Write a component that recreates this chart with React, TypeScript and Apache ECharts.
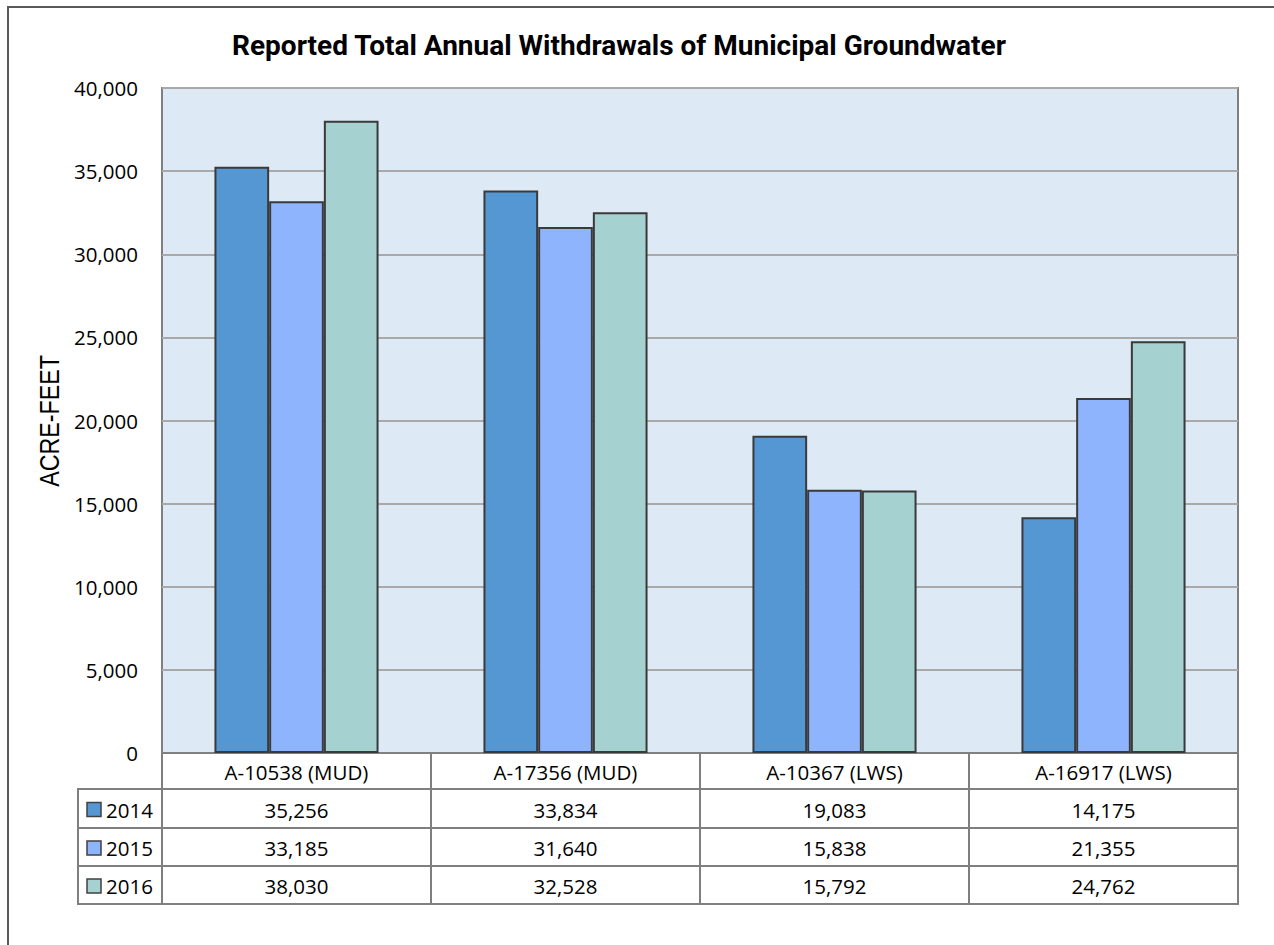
import React, { useEffect, useRef } from "react";
import * as echarts from "echarts";

const categories = ["A-10538 (MUD)", "A-17356 (MUD)", "A-10367 (LWS)", "A-16917 (LWS)"];
const seriesNames = ["2014", "2015", "2016"];
const values2014 = [35256, 33834, 19083, 14175];
const values2015 = [33185, 31640, 15838, 21355];
const values2016 = [38030, 32528, 15792, 24762];
const seriesValues = [values2014, values2015, values2016];
const seriesColors = ["#5597D3", "#8FB4FE", "#A6D1D1"];
const yMin = 0;
const yMax = 40000;
const yInterval = 5000;

const TITLE = "Reported Total Annual Withdrawals of Municipal Groundwater";
const Y_NAME = "ACRE-FEET";

const GRID_LEFT = 162;
const GRID_RIGHT_X = 1238;
const GRID_TOP = 88;
const GRID_BOTTOM_Y = 753;
const W = 1274;
const H = 945;
const ROW_LINES = [789, 828, 866, 904];
const LEGEND_LEFT = 78;
const FONT = "'Open Sans', 'Noto Sans', sans-serif";
const LINE_COLOR = "#7F7F7F";

const fmt = (v: number) => v.toLocaleString("en-US");

export default function App() {
  const ref = useRef<HTMLDivElement>(null);
  useEffect(() => {
    if (!ref.current) return;
    const chart = echarts.init(ref.current, null, { renderer: "svg" });
    const option: any = {
      animation: false,
      backgroundColor: "#FFFFFF",
      grid: {
        left: GRID_LEFT,
        top: GRID_TOP,
        right: W - GRID_RIGHT_X,
        bottom: H - GRID_BOTTOM_Y,
        show: true,
        backgroundColor: "#DEE9F6",
        borderColor: "#808080",
        borderWidth: 2,
        containLabel: false,
      },
      xAxis: {
        type: "category",
        data: categories,
        axisLine: { show: true, lineStyle: { color: "#808080", width: 2 } },
        axisTick: { show: false },
        axisLabel: {
          show: true,
          margin: 19,
          verticalAlign: "middle",
          fontFamily: FONT,
          fontSize: 20.5,
          color: "#000000",
        },
        splitLine: { show: false },
      },
      yAxis: {
        type: "value",
        min: yMin,
        max: yMax,
        interval: yInterval,
        axisLine: { show: false },
        axisTick: { show: false },
        axisLabel: {
          margin: 24,
          fontFamily: FONT,
          fontSize: 20.5,
          color: "#000000",
          formatter: (v: number) => fmt(v),
        },
        splitLine: { show: true, lineStyle: { color: "#A9A9A9", width: 2 } },
      },
      series: seriesNames.map((name, i) => ({
        name,
        type: "bar",
        data: seriesValues[i],
        barGap: "0%",
        barCategoryGap: "39%",
        itemStyle: { color: seriesColors[i], borderColor: "#3A3A3A", borderWidth: 2 },
      })),
    };
    chart.setOption(option);

    const centers = categories.map((_, i) => chart.convertToPixel({ xAxisIndex: 0 }, i) as number);
    const catW = (GRID_RIGHT_X - GRID_LEFT) / categories.length;
    const graphics: any[] = [];

    graphics.push({
      type: "rect",
      shape: { x: 8, y: 7, width: 1400, height: 1100 },
      style: { fill: "none", stroke: "#595959", lineWidth: 2 },
      z: 10,
    });
    graphics.push({
      type: "text",
      x: 619,
      y: 45,
      style: {
        text: TITLE,
        font: "bold 28px Roboto, sans-serif",
        fill: "#000000",
        textAlign: "center",
        textVerticalAlign: "middle",
        align: "center",
        verticalAlign: "middle",
      },
      z: 10,
    });
    graphics.push({
      type: "text",
      x: 49,
      y: 421,
      rotation: Math.PI / 2,
      scaleX: 0.83,
      style: {
        text: Y_NAME,
        font: "28px 'Liberation Sans', Arial, sans-serif",
        fill: "#000000",
        textAlign: "center",
        textVerticalAlign: "middle",
        align: "center",
        verticalAlign: "middle",
      },
      z: 10,
    });
    for (let i = 0; i <= categories.length; i++) {
      const x = GRID_LEFT + i * catW;
      graphics.push({
        type: "line",
        shape: { x1: x, y1: GRID_BOTTOM_Y, x2: x, y2: ROW_LINES[ROW_LINES.length - 1] },
        style: { stroke: LINE_COLOR, lineWidth: 2 },
        z: 10,
      });
    }
    graphics.push({
      type: "line",
      shape: { x1: LEGEND_LEFT, y1: ROW_LINES[0], x2: LEGEND_LEFT, y2: ROW_LINES[ROW_LINES.length - 1] },
      style: { stroke: LINE_COLOR, lineWidth: 2 },
      z: 10,
    });
    ROW_LINES.forEach((y) => {
      graphics.push({
        type: "line",
        shape: { x1: LEGEND_LEFT - 1, y1: y, x2: GRID_RIGHT_X + 1, y2: y },
        style: { stroke: LINE_COLOR, lineWidth: 2 },
        z: 10,
      });
    });
    seriesNames.forEach((name, r) => {
      const yc = (ROW_LINES[r] + ROW_LINES[r + 1]) / 2 + 1;
      graphics.push({
        type: "rect",
        shape: { x: 87, y: yc - 7, width: 14, height: 14 },
        style: { fill: seriesColors[r], stroke: "#404040", lineWidth: 1.5 },
        z: 10,
      });
      graphics.push({
        type: "text",
        x: 106,
        y: yc,
        style: {
          text: name,
          font: `20.5px ${FONT}`,
          fill: "#000000",
          textAlign: "left",
          textVerticalAlign: "middle",
          align: "left",
          verticalAlign: "middle",
        },
        z: 10,
      });
      seriesValues[r].forEach((v, c) => {
        graphics.push({
          type: "text",
          x: centers[c],
          y: yc,
          style: {
            text: fmt(v),
            font: `20.5px ${FONT}`,
            fill: "#000000",
            textAlign: "center",
            textVerticalAlign: "middle",
            align: "center",
            verticalAlign: "middle",
          },
          z: 10,
        });
      });
    });
    chart.setOption({ graphic: graphics });
    return () => chart.dispose();
  }, []);
  return (
    <div
      ref={ref}
      style={{ position: "absolute", left: 0, top: 0, width: W, height: H, overflow: "hidden" }}
    />
  );
}
